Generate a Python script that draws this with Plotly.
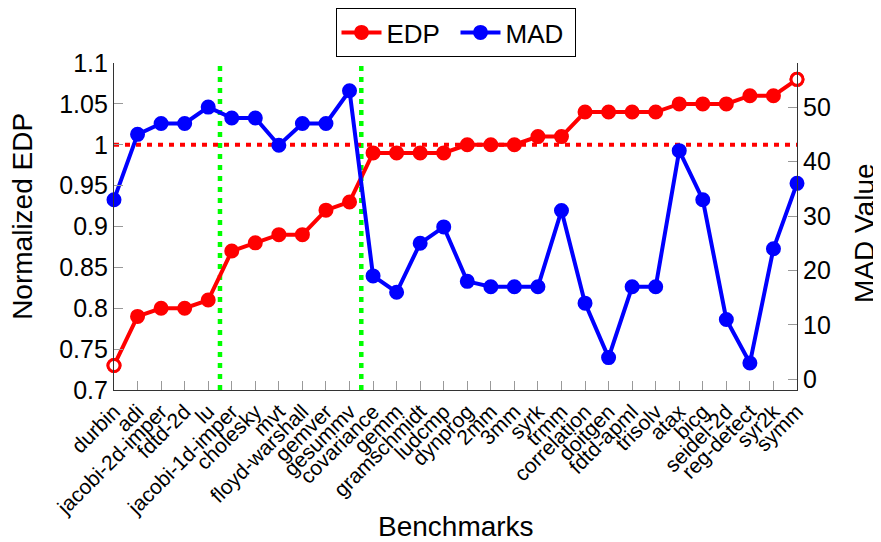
import plotly.graph_objects as go

benchmarks = ["durbin", "adi", "jacobi-2d-imper", "fdtd-2d", "lu", "jacobi-1d-imper",
              "cholesky", "mvt", "floyd-warshall", "gemver", "gesummv", "covariance",
              "gemm", "gramschmidt", "ludcmp", "dynprog", "2mm", "3mm", "syrk", "trmm",
              "correlation", "doitgen", "fdtd-apml", "trisolv", "atax", "bicg",
              "seidel-2d", "reg-detect", "syr2k", "symm"]
edp = [0.73, 0.79, 0.80, 0.80, 0.81, 0.87, 0.88, 0.89, 0.89, 0.92, 0.93, 0.99,
       0.99, 0.99, 0.99, 1.00, 1.00, 1.00, 1.01, 1.01, 1.04, 1.04, 1.04, 1.04,
       1.05, 1.05, 1.05, 1.06, 1.06, 1.08]
mad = [33, 45, 47, 47, 50, 48, 48, 43, 47, 47, 53, 19, 16, 25, 28, 18, 17, 17,
       17, 31, 14, 4, 17, 17, 42, 33, 11, 3, 24, 36]
ref_edp = 1.0
split_positions = [4.5, 10.5]
edp_ticks = [0.7, 0.75, 0.8, 0.85, 0.9, 0.95, 1.0, 1.05, 1.1]
edp_tick_text = ["0.7", "0.75", "0.8", "0.85", "0.9", "0.95", "1", "1.05", "1.1"]
mad_ticks = [0, 10, 20, 30, 40, 50]

FONT = "Liberation Sans, Arial, Helvetica, sans-serif"
x = list(range(len(benchmarks)))

fig = go.Figure()

fig.add_trace(go.Scatter(
    x=x, y=edp, mode="lines+markers", name="EDP",
    line=dict(color="#ff0000", width=4),
    marker=dict(color="#ff0000", size=13, line=dict(color="#ff0000", width=2)),
    cliponaxis=False))
ends = [0, len(x) - 1]
fig.add_trace(go.Scatter(
    x=[x[i] for i in ends], y=[edp[i] for i in ends], mode="markers",
    showlegend=False, hoverinfo="skip",
    marker=dict(color="white", size=12, line=dict(color="#ff0000", width=3)),
    cliponaxis=False))
fig.add_trace(go.Scatter(
    x=x, y=mad, mode="lines+markers", name="MAD", yaxis="y2",
    line=dict(color="#0000ff", width=4),
    marker=dict(color="#0000ff", size=13, line=dict(color="#0000ff", width=2)),
    cliponaxis=False))

fig.add_shape(type="line", xref="x", yref="y", x0=x[0], x1=x[-1], y0=ref_edp, y1=ref_edp,
              line=dict(color="#ff0000", width=4, dash="5px,6px"), layer="below")
for s in split_positions:
    fig.add_shape(type="line", xref="x", yref="paper", x0=s, x1=s, y0=0, y1=1,
                  line=dict(color="#00ff00", width=4.5, dash="5px,6px"), layer="below")

title_font = dict(family=FONT, size=28, color="black")
fig.add_annotation(text="Benchmarks", xref="paper", yref="paper", x=0.5, y=-0.418,
                   xanchor="center", yanchor="middle", showarrow=False, font=title_font)
fig.add_annotation(text="Normalized EDP", xref="paper", yref="paper", x=-0.133, y=0.53,
                   xanchor="center", yanchor="middle", showarrow=False, textangle=-90,
                   font=title_font)
fig.add_annotation(text="MAD Value", xref="paper", yref="paper", x=1.098, y=0.48,
                   xanchor="center", yanchor="middle", showarrow=False, textangle=-90,
                   font=title_font)

fig.update_layout(
    width=873, height=534,
    margin=dict(l=106, r=84, t=55, b=152, autoexpand=False),
    paper_bgcolor="white", plot_bgcolor="white",
    font=dict(family=FONT, color="black", size=22),
    showlegend=True,
    legend=dict(orientation="h", x=0.5, xanchor="center", yref="container",
                y=1.0, yanchor="top",
                bordercolor="black", borderwidth=1, font=dict(size=26),
                itemwidth=40, tracegroupgap=0, entrywidth=64),
    xaxis=dict(range=[0, 29], tickmode="array", tickvals=x, ticktext=benchmarks,
               tickangle=-45, tickfont=dict(size=21), ticks="inside", ticklen=9,
               tickcolor="#999", showline=True, linecolor="#333", linewidth=1.2,
               showgrid=False, zeroline=False, automargin=False),
    yaxis=dict(range=[0.7, 1.1], tickvals=edp_ticks, ticktext=edp_tick_text,
               tickfont=dict(size=25), ticks="inside", ticklen=9, tickcolor="#999",
               showline=True, linecolor="#333", linewidth=1.2, showgrid=False,
               zeroline=False, automargin=False),
    yaxis2=dict(range=[-1.95, 58.1], overlaying="y", side="right",
                tickvals=mad_ticks, tickfont=dict(size=25),
                ticks="inside", ticklen=9, tickcolor="#999", showline=True,
                linecolor="#333", linewidth=1.2, showgrid=False, zeroline=False,
                automargin=False),
)

fig.write_html("out.html")
